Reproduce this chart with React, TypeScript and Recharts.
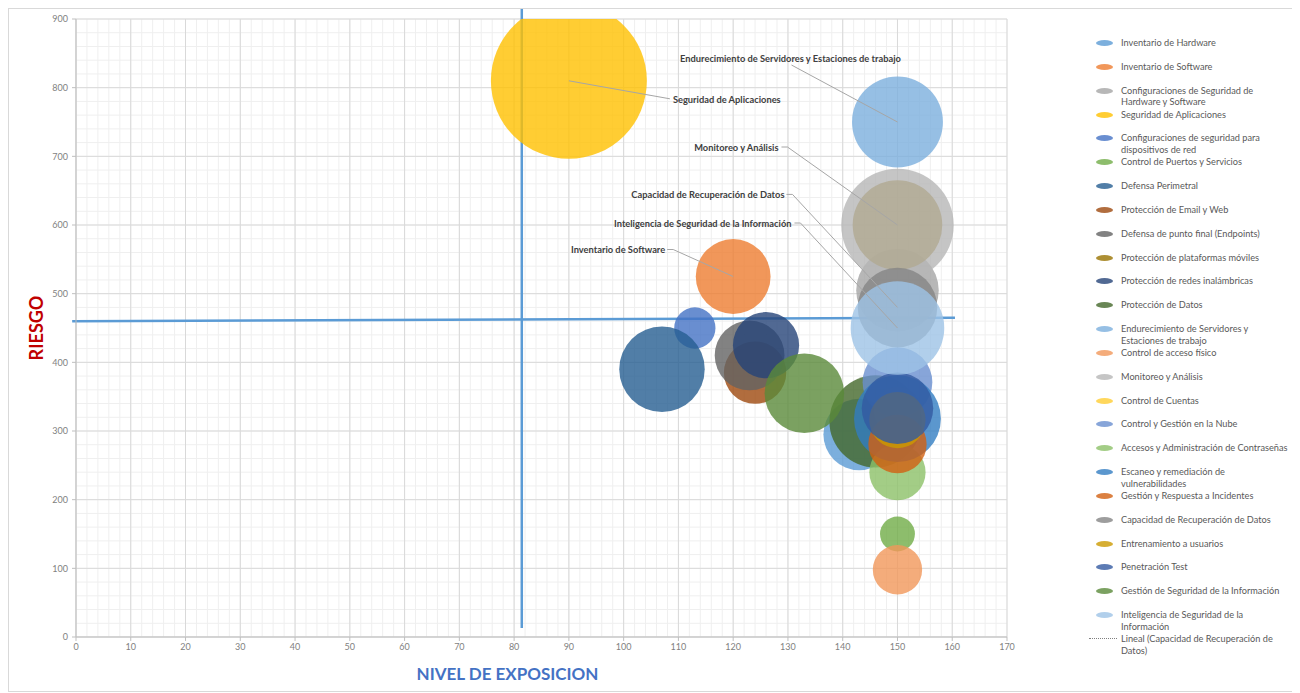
import React from "react";
import { ScatterChart, Scatter, XAxis, YAxis, ZAxis, CartesianGrid, ReferenceLine } from "recharts";

const controles = [
  "Inventario de Hardware",
  "Inventario de Software",
  "Configuraciones de Seguridad de Hardware y Software",
  "Seguridad de Aplicaciones",
  "Configuraciones de seguridad para dispositivos de red",
  "Control de Puertos y Servicios",
  "Defensa Perimetral",
  "Protección de Email y Web",
  "Defensa de punto final (Endpoints)",
  "Protección de plataformas móviles",
  "Protección de redes inalámbricas",
  "Protección de Datos",
  "Endurecimiento de Servidores y Estaciones de trabajo",
  "Control de acceso físico",
  "Monitoreo y Análisis",
  "Control de Cuentas",
  "Control y Gestión en la Nube",
  "Accesos y Administración de Contraseñas",
  "Escaneo y remediación de vulnerabilidades",
  "Gestión y Respuesta a Incidentes",
  "Capacidad de Recuperación de Datos",
  "Entrenamiento a usuarios",
  "Penetración Test",
  "Gestión de Seguridad de la Información",
  "Inteligencia de Seguridad de la Información",
];

const nivelExposicion = [143, 120, 150, 90, 113, 150, 107, 124, 123, 150, 126, 146, 150, 150, 150, 150, 150, 150, 150, 150, 150, 150, 150, 133, 150];
const riesgo = [295, 525, 505, 810, 450, 150, 390, 385, 410, 600, 425, 314, 750, 98, 600, 330, 371, 240, 318, 281, 480, 316, 333, 355, 450];
const tamano = [21, 23, 28, 100, 7, 5, 30, 16, 20, 33, 18, 35, 34, 10, 52, 9, 20, 13, 31, 14, 26, 13, 21, 26, 36];

const colores = [
  "#5B9BD5", "#ED7D31", "#A5A5A5", "#FFC000", "#4472C4", "#70AD47",
  "#255E91", "#9E480E", "#636363", "#997300", "#264478", "#43682B",
  "#7CAFDD", "#F1975A", "#B7B7B7", "#FFCD33", "#698ED0", "#8CC168",
  "#327DC2", "#D26012", "#848484", "#CC9A00", "#335AA1", "#5A8A39",
  "#9DC3E6",
];

const leyenda = [
  "Inventario de Hardware",
  "Inventario de Software",
  "Configuraciones de Seguridad de\nHardware y Software",
  "Seguridad de Aplicaciones",
  "Configuraciones de seguridad para\ndispositivos de red",
  "Control de Puertos y Servicios",
  "Defensa Perimetral",
  "Protección de Email y Web",
  "Defensa de punto final (Endpoints)",
  "Protección de plataformas móviles",
  "Protección de redes inalámbricas",
  "Protección de Datos",
  "Endurecimiento de Servidores y\nEstaciones de trabajo",
  "Control de acceso físico",
  "Monitoreo y Análisis",
  "Control de Cuentas",
  "Control y Gestión en la Nube",
  "Accesos y Administración de Contraseñas",
  "Escaneo y remediación de\nvulnerabilidades",
  "Gestión y Respuesta a Incidentes",
  "Capacidad de Recuperación de Datos",
  "Entrenamiento a usuarios",
  "Penetración Test",
  "Gestión de Seguridad de la Información",
  "Inteligencia de Seguridad de la\nInformación",
];
const leyendaTendencia = "Lineal (Capacidad de Recuperación de\nDatos)";

const xTicks = [0, 10, 20, 30, 40, 50, 60, 70, 80, 90, 100, 110, 120, 130, 140, 150, 160, 170];
const yTicks = [0, 100, 200, 300, 400, 500, 600, 700, 800, 900];
const xMinor = Array.from({ length: 86 }, (_, i) => i * 2);
const yMinor = Array.from({ length: 46 }, (_, i) => i * 20);

// promedios (líneas de cuadrante)
const promedioExposicion = 81.4;
const lineaExposicionY = [13, 917];
const lineaRiesgoX = [-0.7, 160.5];
const lineaRiesgoY = [460, 465];

type Etiqueta = {
  serie: number;
  tx: number;
  ty: number;
  anchor: "start" | "middle" | "end";
  linea: number[][];
};

const etiquetas: Etiqueta[] = [
  { serie: 3, tx: 104, ty: 19, anchor: "start", linea: [[0, 0], [101, 18]] },
  { serie: 12, tx: -107, ty: -64, anchor: "middle", linea: [[-106, -57], [0, 0]] },
  { serie: 14, tx: -119, ty: -78, anchor: "end", linea: [[-116, -78], [-110, -78], [0, 0]] },
  { serie: 20, tx: -113, ty: -113, anchor: "end", linea: [[-111, -113], [-105, -113], [0, 0]] },
  { serie: 24, tx: -106, ty: -105, anchor: "end", linea: [[-103, -105], [-97, -105], [0, 0]] },
  { serie: 1, tx: -68, ty: -27, anchor: "end", linea: [[-66, -27], [-60, -27], [0, 0]] },
];

const FONT = "Lato, 'Open Sans', sans-serif";

const Callout = (p: any) => {
  const e: Etiqueta = p.payload.e;
  const cx = p.cx;
  const cy = p.cy;
  const pts = e.linea.map(([dx, dy]) => `${cx + dx},${cy + dy}`).join(" ");
  return (
    <g>
      <polyline points={pts} fill="none" stroke="#A6A6A6" strokeWidth={1} />
      <text
        x={cx + e.tx}
        y={cy + e.ty}
        textAnchor={e.anchor}
        dominantBaseline="central"
        fontFamily={FONT}
        fontWeight={700}
        fontSize={9.3}
        fill="#404040"
      >
        {controles[e.serie]}
      </text>
    </g>
  );
};

const TituloY = (props: any) => {
  const vb = props.viewBox || {};
  const x = vb.x + 27;
  const y = vb.y + vb.height / 2;
  return (
    <text
      x={x}
      y={y}
      transform={`rotate(-90 ${x} ${y})`}
      textAnchor="middle"
      dominantBaseline="central"
      fontFamily={FONT}
      fontWeight={700}
      fontSize={18}
      fill="#C00000"
    >
      RIESGO
    </text>
  );
};

const TituloX = (props: any) => {
  const vb = props.viewBox || {};
  const x = vb.x + vb.width / 2 - 34;
  const y = vb.y + 36;
  return (
    <text
      x={x}
      y={y}
      textAnchor="middle"
      dominantBaseline="central"
      fontFamily={FONT}
      fontWeight={700}
      fontSize={17}
      fill="#4472C4"
    >
      NIVEL DE EXPOSICION
    </text>
  );
};

const tickStyle = { fill: "#7F7F7F", fontSize: 9, fontFamily: FONT };

export default function App() {
  const calloutData = etiquetas.map((e) => ({
    x: nivelExposicion[e.serie],
    y: riesgo[e.serie],
    z: tamano[e.serie],
    e,
  }));
  const rowStep = 23.84;
  const legendText = {
    position: "absolute" as const,
    left: 41,
    top: 0,
    fontSize: 9.2,
    lineHeight: "11.6px",
    color: "#595959",
    whiteSpace: "pre" as const,
  };
  return (
    <div
      style={{
        position: "relative",
        width: 1286,
        height: 684,
        border: "1px solid #D9D9D9",
        boxSizing: "border-box",
        background: "#fff",
        fontFamily: FONT,
      }}
    >
      <div style={{ position: "absolute", left: 0, top: 0 }}>
        <ScatterChart width={1010} height={680} margin={{ top: 10, right: 12, bottom: 0, left: 0 }}>
          <CartesianGrid stroke="#EFEFEF" verticalValues={xMinor} horizontalValues={yMinor} />
          <CartesianGrid stroke="#D9D9D9" />
          <XAxis
            type="number"
            dataKey="x"
            domain={[0, 170]}
            ticks={xTicks}
            interval={0}
            height={52}
            tick={tickStyle}
            tickSize={4}
            tickMargin={3}
            axisLine={{ stroke: "#BFBFBF" }}
            tickLine={{ stroke: "#BFBFBF" }}
            allowDataOverflow
            label={<TituloX />}
          />
          <YAxis
            type="number"
            dataKey="y"
            domain={[0, 900]}
            ticks={yTicks}
            interval={0}
            width={67}
            tick={tickStyle}
            tickSize={4}
            tickMargin={4}
            axisLine={{ stroke: "#BFBFBF" }}
            tickLine={{ stroke: "#BFBFBF" }}
            allowDataOverflow
            label={<TituloY />}
          />
          <ZAxis type="number" dataKey="z" domain={[0, 100]} range={[0, 19113]} />
          {controles.map((nombre, i) => (
            <Scatter
              key={nombre}
              name={nombre}
              data={[{ x: nivelExposicion[i], y: riesgo[i], z: tamano[i] }]}
              fill={colores[i]}
              fillOpacity={0.8}
              isAnimationActive={false}
            />
          ))}
          <ReferenceLine
            segment={[
              { x: promedioExposicion, y: lineaExposicionY[0] },
              { x: promedioExposicion, y: lineaExposicionY[1] },
            ]}
            stroke="#5B9BD5"
            strokeWidth={2.5}
            ifOverflow="visible"
          />
          <ReferenceLine
            segment={[
              { x: lineaRiesgoX[0], y: lineaRiesgoY[0] },
              { x: lineaRiesgoX[1], y: lineaRiesgoY[1] },
            ]}
            stroke="#5B9BD5"
            strokeWidth={2.5}
            ifOverflow="visible"
          />
          <Scatter
            name="etiquetas"
            data={calloutData}
            fill="none"
            isAnimationActive={false}
            shape={(p: any) => <Callout {...p} />}
          />
        </ScatterChart>
      </div>
      <div style={{ position: "absolute", left: 1071, top: 0, width: 210, height: 680 }}>
        {leyenda.map((t, i) => (
          <div key={i} style={{ position: "absolute", left: 0, top: 42 - 9 + i * rowStep - 5, height: 12 }}>
            <span
              style={{
                position: "absolute",
                left: 16,
                top: 3,
                width: 17,
                height: 6,
                borderRadius: "50%",
                background: colores[i],
                opacity: 0.8,
              }}
            />
            <span style={legendText}>{t}</span>
          </div>
        ))}
        <div style={{ position: "absolute", left: 0, top: 42 - 9 + 25 * rowStep - 5, height: 12 }}>
          <span
            style={{
              position: "absolute",
              left: 9,
              top: 5,
              width: 28,
              height: 0,
              borderTop: "1px dotted #7F7F7F",
            }}
          />
          <span style={legendText}>{leyendaTendencia}</span>
        </div>
      </div>
    </div>
  );
}
